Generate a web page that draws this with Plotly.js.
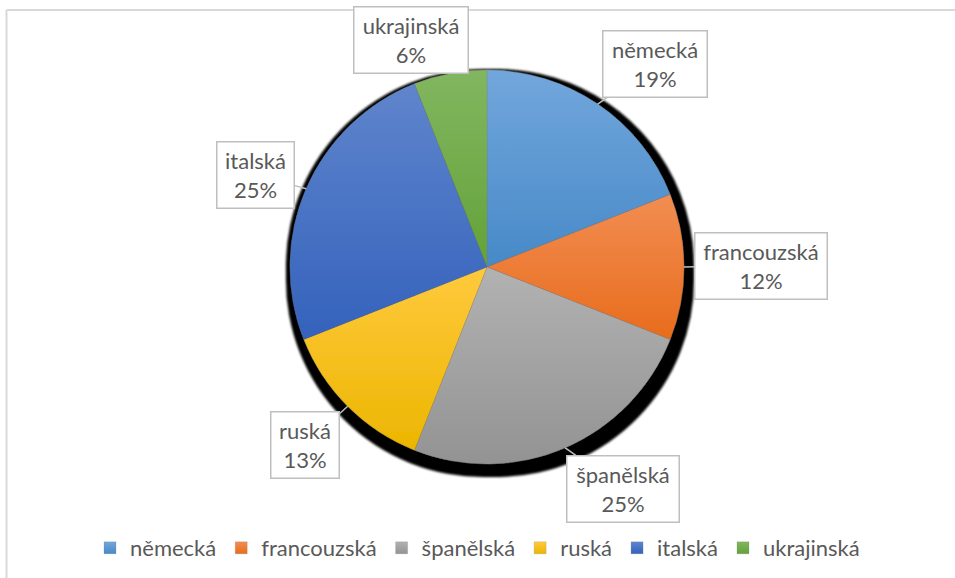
<!DOCTYPE html>
<html>
<head>
<meta charset="utf-8">
<script src="https://cdn.plot.ly/plotly-3.0.1.min.js"></script>
<style>
  html, body { margin: 0; padding: 0; background: #fff; }
  #chart { width: 955px; height: 578px; }
  #chart .pielayer { filter: url(#pieShadow); }
</style>
</head>
<body>
<svg width="0" height="0" style="position:absolute">
  <defs>
    <filter id="pieShadow" x="-10%" y="-10%" width="125%" height="125%">
      <feMorphology in="SourceAlpha" operator="dilate" radius="7" result="d"/>
      <feOffset in="d" dx="3" dy="6" result="o"/>
      <feGaussianBlur in="o" stdDeviation="0.8" result="b"/>
      <feMerge><feMergeNode in="b"/><feMergeNode in="SourceGraphic"/></feMerge>
    </filter>
  </defs>
  <defs id="gradDefs"></defs>
</svg>
<div id="chart"></div>
<script>
// ---- data ----
const categories = ["německá", "francouzská", "španělská", "ruská", "italská", "ukrajinská"];
const shares = [19, 12, 25, 13, 25, 6];
const percentLabels = ["19%", "12%", "25%", "13%", "25%", "6%"];

// ---- styles ----
const sliceColors = ["#5B9BD5", "#EF7D2E", "#A5A5A5", "#FAC000", "#4472C4", "#70AD47"];
const gradTop = ["#72A7DC", "#F28D52", "#B2B2B2", "#FFC93E", "#5F85CC", "#82B660"];
const gradBottom = ["#4789C8", "#E86C1C", "#939393", "#ECB600", "#3462BC", "#63A239"];
const labelOffsets = [[57, -40], [77, -1], [58, 41], [-43, 39], [-51, -14], [-39, -33]];
const labelWidths = [95, 123, 103, 59, 68, 105];

const W = 955, H = 578;
const cxPx = 487, cyPx = 267, rPx = 197;
const domX = [(cxPx - rPx) / W, (cxPx + rPx) / W];
const domY = [1 - (cyPx + rPx) / H, 1 - (cyPx - rPx) / H];

const total = shares.reduce((a, b) => a + b, 0);
let cum = 0;
const annotations = categories.map((c, i) => {
  const mid = (cum + shares[i] / 2) / total * 2 * Math.PI;
  cum += shares[i];
  const tx = (cxPx + rPx * Math.sin(mid)) / W;
  const ty = 1 - (cyPx - rPx * Math.cos(mid)) / H;
  return {
    xref: "paper", yref: "paper", x: tx, y: ty,
    text: c + "<br>" + percentLabels[i],
    showarrow: true, arrowhead: 0, arrowwidth: 1.5, arrowcolor: "#BFBFBF",
    ax: labelOffsets[i][0], ay: labelOffsets[i][1],
    bordercolor: "#BFBFBF", borderwidth: 1.5, borderpad: 4, bgcolor: "#FFFFFF",
    width: labelWidths[i], height: 57,
    font: { family: "Lato, 'Open Sans', sans-serif", size: 22, color: "#595959" },
    align: "center"
  };
});

const trace = {
  type: "pie",
  labels: categories,
  values: shares,
  sort: false,
  direction: "clockwise",
  rotation: 0,
  textinfo: "none",
  hoverinfo: "label+percent",
  domain: { x: domX, y: domY },
  marker: { colors: sliceColors, line: { color: "rgba(120,120,120,0.35)", width: 0.6 } }
};

const layout = {
  width: W, height: H,
  margin: { l: 0, r: 0, t: 0, b: 0 },
  paper_bgcolor: "#FFFFFF",
  showlegend: true,
  legend: {
    orientation: "h", x: 0.5, xanchor: "center", y: 1 - 548 / H, yanchor: "middle",
    font: { family: "Lato, 'Open Sans', sans-serif", size: 22, color: "#595959" },
    itemclick: false, itemdoubleclick: false
  },
  annotations: annotations,
  shapes: [
    { type: "line", xref: "paper", yref: "paper", x0: 6.5 / W, x1: 1, y0: 1 - 10 / H, y1: 1 - 10 / H, line: { color: "#D9D9D9", width: 2 } },
    { type: "line", xref: "paper", yref: "paper", x0: 6.5 / W, x1: 6.5 / W, y0: 0, y1: 1 - 10 / H, line: { color: "#D9D9D9", width: 2 } }
  ]
};

// vertical gradients per slice (style only)
const defs = document.getElementById("gradDefs");
const NS = "http://www.w3.org/2000/svg";
categories.forEach((c, i) => {
  const g = document.createElementNS(NS, "linearGradient");
  g.setAttribute("id", "grad" + i);
  g.setAttribute("x1", "0"); g.setAttribute("y1", "0");
  g.setAttribute("x2", "0"); g.setAttribute("y2", "1");
  const s1 = document.createElementNS(NS, "stop");
  s1.setAttribute("offset", "0"); s1.setAttribute("stop-color", gradTop[i]);
  const s2 = document.createElementNS(NS, "stop");
  s2.setAttribute("offset", "1"); s2.setAttribute("stop-color", gradBottom[i]);
  g.appendChild(s1); g.appendChild(s2);
  defs.appendChild(g);
});

Plotly.newPlot("chart", [trace], layout, { displayModeBar: false, staticPlot: true }).then(gd => {
  gd.querySelectorAll(".pielayer .slice path.surface").forEach((p, i) => {
    p.style.fill = "url(#grad" + i + ")";
  });
  gd.querySelectorAll(".legend .traces").forEach((t, i) => {
    const p = t.querySelector(".legendpoints path");
    if (p) p.style.fill = "url(#grad" + i + ")";
  });
});
</script>
</body>
</html>
